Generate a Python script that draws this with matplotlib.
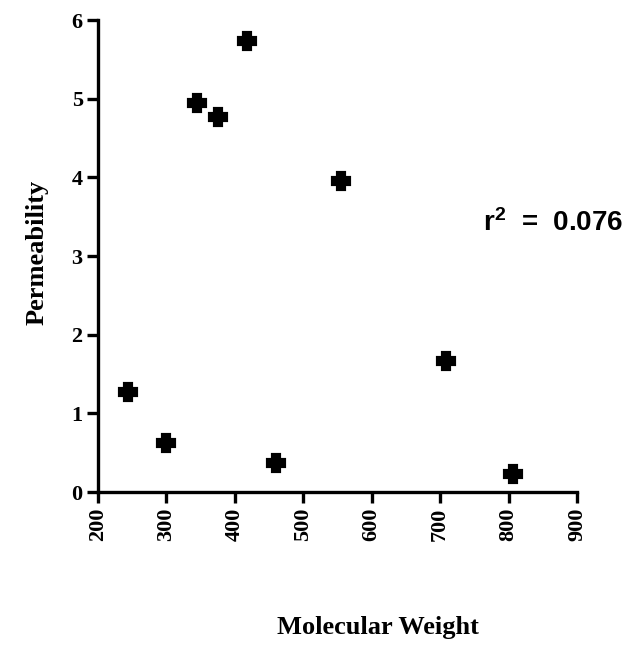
import matplotlib
matplotlib.use("Agg")
import matplotlib.pyplot as plt

# molecular weight vs permeability for the compound set
mol_weight = [244, 300, 345, 375, 418, 460, 555, 709, 807]
permeability = [1.27, 0.62, 4.95, 4.77, 5.73, 0.37, 3.95, 1.67, 0.23]
x_ticks = [200, 300, 400, 500, 600, 700, 800, 900]
y_ticks = [0, 1, 2, 3, 4, 5, 6]
r_squared = 0.076

plt.rcParams["mathtext.fontset"] = "custom"
plt.rcParams["mathtext.bf"] = "Liberation Sans:bold"
plt.rcParams["mathtext.rm"] = "Liberation Sans:bold"

fig = plt.figure(figsize=(6.3, 6.5), dpi=100)
ax = fig.add_axes([98 / 630, 1 - 492 / 650, 479 / 630, 472 / 650])

# thick rounded crosses
ax.plot(mol_weight, permeability, linestyle="none", marker="P", markersize=11,
        color="black", markeredgecolor="black", markeredgewidth=3.0,
        clip_on=False)

ax.set_xlim(200, 900)
ax.set_ylim(0, 6)
ax.set_xticks(x_ticks)
ax.set_yticks(y_ticks)

serif = {"family": "Liberation Serif", "weight": "bold"}
ax.set_xticklabels([str(v) for v in x_ticks], rotation=90, fontdict={**serif, "size": 16})
ax.set_yticklabels([str(v) for v in y_ticks], fontdict={**serif, "size": 16})

for side in ("top", "right"):
    ax.spines[side].set_visible(False)
for side in ("left", "bottom"):
    ax.spines[side].set_linewidth(2.4)
ax.tick_params(axis="both", width=2.4, length=8, pad=3)

ax.set_xlabel("Molecular Weight", fontdict={**serif, "size": 19})
ax.set_ylabel("Permeability", fontdict={**serif, "size": 19})
ax.xaxis.label.set_verticalalignment("center")
ax.yaxis.label.set_verticalalignment("center")
ax.xaxis.set_label_coords(0.585, -0.288)
ax.yaxis.set_label_coords(-0.128, 0.508)

ax.text(763, 3.42, r"$\mathbf{r^2}$  =  %.3f" % r_squared, fontsize=20,
        family="Liberation Sans", weight="bold",
        ha="left", va="center", clip_on=False)

fig.savefig("out.png", dpi=100, facecolor="white")
